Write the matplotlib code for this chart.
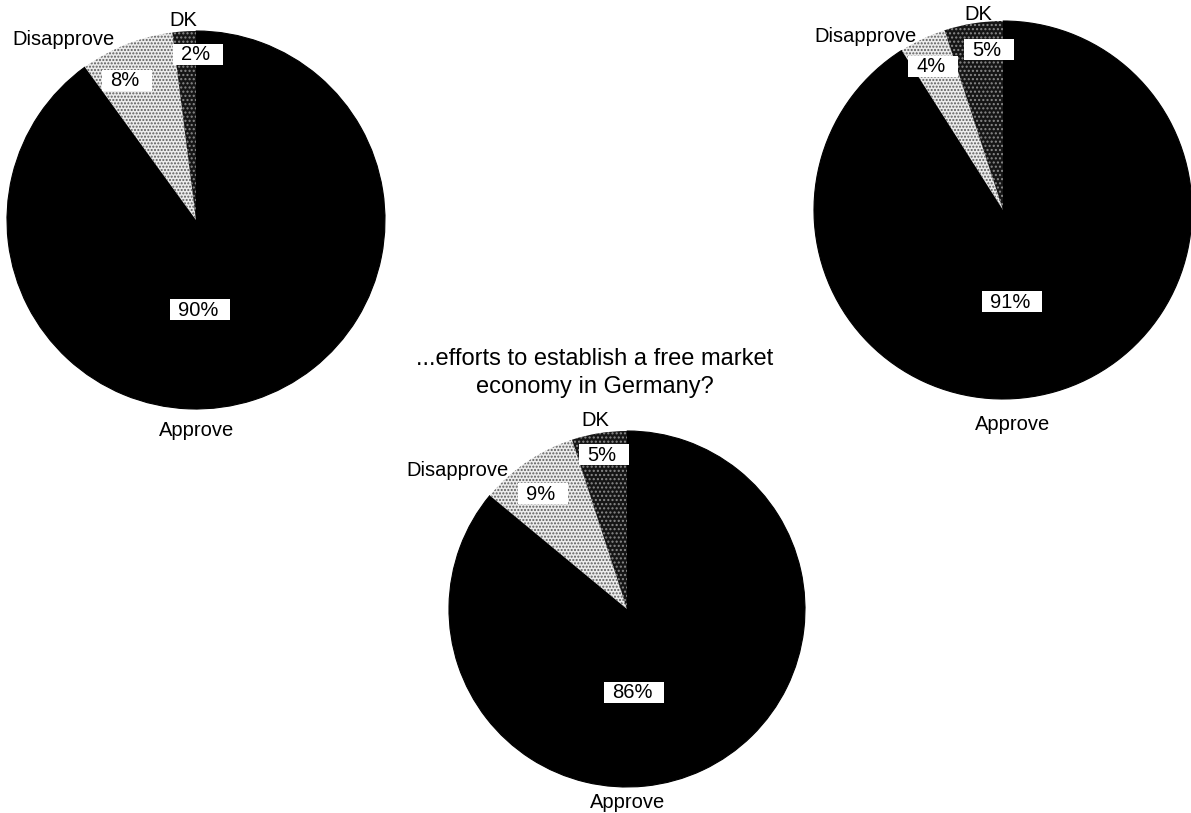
import matplotlib
matplotlib.use("Agg")
import matplotlib.pyplot as plt
from matplotlib.patches import Rectangle

plt.rcParams['font.family'] = ['Liberation Sans', 'DejaVu Sans']
plt.rcParams['hatch.linewidth'] = 1.0

categories = ["Approve", "Disapprove", "DK"]
pie1_values = [90, 8, 2]
pie2_values = [91, 4, 5]
pie3_values = [86, 9, 5]
pie3_title = "...efforts to establish a free market\neconomy in Germany?"

W, H = 1191, 813
fig = plt.figure(figsize=(W / 100, H / 100), dpi=100)
ax = fig.add_axes([0, 0, 1, 1])
ax.set_xlim(0, W)
ax.set_ylim(0, H)
ax.set_aspect('equal')
ax.axis('off')


def Y(py):
    return H - py


pct_texts = []


def draw_pie(values, cx, cy, r, label_pos, pct_pos):
    wedges, _ = ax.pie(values, startangle=90, counterclock=False,
                       center=(cx, Y(cy)), radius=r, frame=True)
    # Approve: solid black
    wedges[0].set_facecolor('black')
    wedges[0].set_edgecolor('black')
    wedges[0].set_linewidth(0.8)
    # Disapprove: light dotted
    wedges[1].set_facecolor('#ececec')
    wedges[1].set_edgecolor('#5a5a5a')
    wedges[1].set_hatch('.....')
    wedges[1].set_linewidth(0)
    # DK: dark dotted
    wedges[2].set_facecolor('#151515')
    wedges[2].set_edgecolor('#8a8a8a')
    wedges[2].set_hatch('....')
    wedges[2].set_linewidth(0)
    for cat, (px, py) in zip(categories, label_pos):
        ax.text(px, Y(py), cat, ha='center', va='center', fontsize=14.5, color='black')
    for v, (px, py) in zip(values, pct_pos):
        t = ax.text(px, Y(py), f"{v}%", ha='center', va='center', fontsize=14.5,
                    color='black', zorder=5)
        pct_texts.append(t)


draw_pie(pie1_values, 196, 220, 189,
         [(197, 430), (63, 40), (183, 21)],
         [(198, 310), (125, 81), (196, 55)])

draw_pie(pie2_values, 1003, 210, 189,
         [(1013, 424), (865, 37), (978, 15)],
         [(1010, 302), (931, 67), (987, 50)])

draw_pie(pie3_values, 627, 609, 178,
         [(628, 802), (458, 470), (595, 421)],
         [(632, 692), (541, 494), (602, 455)])

ax.text(595, Y(373), pie3_title, ha='center', va='center', fontsize=17,
        color='black', linespacing=1.38)

# white boxes behind percentage labels
fig.canvas.draw()
renderer = fig.canvas.get_renderer()
inv = ax.transData.inverted()
for t in pct_texts:
    bb = t.get_window_extent(renderer)
    (x0, y0) = inv.transform((bb.x0, bb.y0))
    (x1, y1) = inv.transform((bb.x1, bb.y1))
    ax.add_patch(Rectangle((x0 - 8, y0 - 1), (x1 - x0) + 20, (y1 - y0) + 2,
                           facecolor='white', edgecolor='none', zorder=4))

ax.set_xlim(0, W)
ax.set_ylim(0, H)
ax.axis('off')
fig.savefig("out.png", dpi=100)
